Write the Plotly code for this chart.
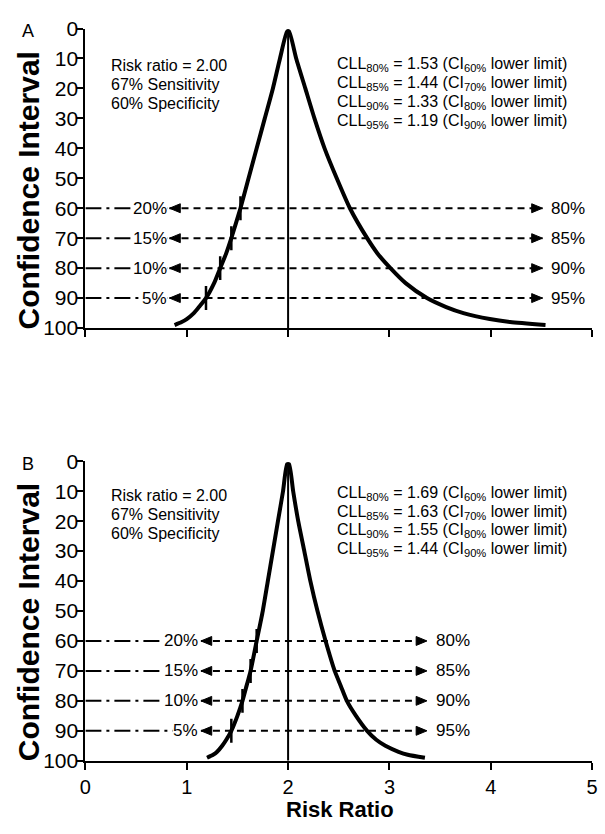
import plotly.graph_objects as go

# ---------------------------------------------------------------------------
# Data
# ---------------------------------------------------------------------------
ci_levels = [1, 10, 20, 30, 40, 50, 60, 70, 75, 80, 85, 90, 93, 95, 97, 98, 99]

# Panel A: lower / upper confidence limits of the risk ratio at each CI level
a_lower = [1.99, 1.92, 1.85, 1.77, 1.69, 1.61, 1.53, 1.44, 1.39, 1.33, 1.27,
           1.19, 1.12, 1.07, 1.00, 0.95, 0.88]
a_upper = [2.01, 2.08, 2.17, 2.26, 2.36, 2.48, 2.61, 2.78, 2.88, 3.01, 3.16,
           3.37, 3.56, 3.73, 3.99, 4.19, 4.54]

# Panel B
b_lower = [1.99, 1.95, 1.90, 1.85, 1.80, 1.75, 1.69, 1.63, 1.59, 1.55, 1.50,
           1.44, 1.39, 1.35, 1.30, 1.26, 1.20]
b_upper = [2.01, 2.05, 2.10, 2.16, 2.22, 2.29, 2.37, 2.46, 2.52, 2.58, 2.67,
           2.78, 2.87, 2.96, 3.09, 3.18, 3.35]

risk_ratio = 2.00
marker_ci = [60, 70, 80, 90]
left_labels = ["20%", "15%", "10%", "5%"]
right_labels = ["80%", "85%", "90%", "95%"]
cll_levels = ["80%", "85%", "90%", "95%"]
ci_names = ["60%", "70%", "80%", "90%"]
a_cll = [1.53, 1.44, 1.33, 1.19]
b_cll = [1.69, 1.63, 1.55, 1.44]

# extent of the arrowed reference lines (risk-ratio units)
a_arrow_span = (0.83, 4.51)
b_arrow_span = (1.14, 3.37)

info_lines = ["Risk ratio = 2.00", "67% Sensitivity", "60% Specificity"]

x_ticks = [0, 1, 2, 3, 4, 5]
y_ticks = [0, 10, 20, 30, 40, 50, 60, 70, 80, 90, 100]

# ---------------------------------------------------------------------------
# Layout geometry (pixels)
# ---------------------------------------------------------------------------
W, H = 605, 834
X_L, X_R = 81, 598
PANELS = {
    "A": dict(top=17, bottom=325),
    "B": dict(top=462, bottom=770),
}
FONT = "Liberation Sans, Arial, Helvetica, sans-serif"
PX_PER_X = (X_R - X_L) / 5.0
PX_PER_Y = (325 - 17) / 100.0

fig = go.Figure()


def add_panel(xa, ya, lower, upper, cll, span, info_y, cll_y):
    xref, yref = xa, ya
    for ci in marker_ci:
        # dash-dot lead-in from the axis to the left arrow tip
        fig.add_trace(go.Scatter(x=[0, span[0]], y=[ci, ci], mode="lines",
                                 line=dict(color="black", width=2,
                                           dash="16px,5px,3px,5px"),
                                 xaxis=xa, yaxis=ya, hoverinfo="skip"))
        # dashed double-headed reference line
        fig.add_trace(go.Scatter(x=[span[0], span[1]], y=[ci, ci], mode="lines",
                                 line=dict(color="black", width=2, dash="7px,5px"),
                                 xaxis=xa, yaxis=ya, hoverinfo="skip"))
        # arrowheads as filled triangles
        dx = 11 / PX_PER_X
        dy = 4.6 / PX_PER_Y
        for tip, sgn in ((span[0], 1), (span[1], -1)):
            fig.add_trace(go.Scatter(
                x=[tip, tip + sgn * dx, tip + sgn * dx, tip],
                y=[ci, ci - dy, ci + dy, ci],
                mode="lines", fill="toself", fillcolor="black",
                line=dict(color="black", width=1),
                xaxis=xa, yaxis=ya, hoverinfo="skip"))

    # vertical line at the point estimate
    fig.add_trace(go.Scatter(x=[risk_ratio, risk_ratio], y=[ci_levels[0], 100],
                             mode="lines", line=dict(color="black", width=2),
                             xaxis=xa, yaxis=ya, hoverinfo="skip"))

    # confidence curve
    cx = list(reversed(lower)) + list(upper)
    cy = list(reversed(ci_levels)) + list(ci_levels)
    fig.add_trace(go.Scatter(x=cx, y=cy, mode="lines",
                             line=dict(color="black", width=4,
                                       shape="spline", smoothing=0.6),
                             xaxis=xa, yaxis=ya, hoverinfo="skip"))

    # short ticks marking the lower limits
    tx, ty = [], []
    for v, ci in zip(cll, marker_ci):
        tx += [v, v, None]
        ty += [ci - 4, ci + 4, None]
    fig.add_trace(go.Scatter(x=tx, y=ty, mode="lines",
                             line=dict(color="black", width=2.5),
                             xaxis=xa, yaxis=ya, hoverinfo="skip"))

    # row labels
    for ci, ll, rl in zip(marker_ci, left_labels, right_labels):
        fig.add_annotation(x=span[0], y=ci, xref=xref, yref=yref, text=ll,
                           showarrow=False, xanchor="right", yanchor="middle",
                           xshift=-2, bgcolor="white", borderpad=0,
                           font=dict(family=FONT, size=17, color="black"))
        fig.add_annotation(x=span[1], y=ci, xref=xref, yref=yref, text=rl,
                           showarrow=False, xanchor="left", yanchor="middle",
                           xshift=7, font=dict(family=FONT, size=17, color="black"))

    # study description
    for txt, yy in zip(info_lines, info_y):
        fig.add_annotation(x=0.23, y=yy, xref=xref, yref=yref, text=txt,
                           showarrow=False, xanchor="left", yanchor="middle",
                           font=dict(family=FONT, size=16, color="black"))

    # lower-limit statements
    for lev, name, v, yy in zip(cll_levels, ci_names, cll, cll_y):
        txt = (f"CLL<sub>{lev}</sub> = {v:.2f} (CI<sub>{name}</sub> lower limit)")
        fig.add_annotation(x=2.46, y=yy, xref=xref, yref=yref, text=txt,
                           showarrow=False, xanchor="left", yanchor="middle",
                           font=dict(family=FONT, size=16, color="black"))


add_panel("x", "y", a_lower, a_upper, a_cll, a_arrow_span,
          [12.3, 18.7, 25.0], [12.0, 18.5, 24.8, 31.1])
add_panel("x2", "y2", b_lower, b_upper, b_cll, b_arrow_span,
          [11.4, 17.9, 24.1], [10.7, 17.0, 23.1, 29.6])

# ---------------------------------------------------------------------------
# Axes
# ---------------------------------------------------------------------------
x_dom = [X_L / W, X_R / W]
axis_common = dict(showline=True, linecolor="black", linewidth=2,
                   ticks="outside", tickcolor="black", tickwidth=2,
                   showgrid=False, zeroline=False)
tick_font = dict(family=FONT, size=21, color="black")


def ydom(p):
    return [1 - PANELS[p]["bottom"] / H, 1 - PANELS[p]["top"] / H]


fig.update_layout(
    xaxis=dict(domain=x_dom, range=[0, 5], tickvals=x_ticks, showticklabels=False,
               ticklen=7, anchor="y", **axis_common),
    yaxis=dict(domain=ydom("A"), range=[100, 0], tickvals=y_ticks, ticklen=6,
               anchor="x", ticklabelstandoff=-5, tickfont=tick_font,
               **axis_common),
    xaxis2=dict(domain=x_dom, range=[0, 5], tickvals=x_ticks, ticklen=7,
                anchor="y2", tickfont=dict(family=FONT, size=20, color="black"),
                **axis_common),
    yaxis2=dict(domain=ydom("B"), range=[100, 0], tickvals=y_ticks, ticklen=6,
                anchor="x2", ticklabelstandoff=-5, tickfont=tick_font,
                **axis_common),
    width=W, height=H, margin=dict(l=0, r=0, t=0, b=0),
    paper_bgcolor="white", plot_bgcolor="white", showlegend=False,
)

# Titles and panel letters
for letter, ycen_title, yletter in (("A", 184, 20), ("B", 628, 465)):
    fig.add_annotation(x=23 / W, y=1 - ycen_title / H, xref="paper", yref="paper",
                       text="Confidence Interval", textangle=-90, showarrow=False,
                       xanchor="center", yanchor="middle",
                       font=dict(family=FONT, size=30, color="black", weight="bold"))
    fig.add_annotation(x=22 / W, y=1 - yletter / H, xref="paper", yref="paper",
                       text=letter, showarrow=False, xanchor="center",
                       yanchor="middle",
                       font=dict(family=FONT, size=18, color="black"))

fig.add_annotation(x=341 / W, y=1 - 820.5 / H, xref="paper", yref="paper",
                   text="Risk Ratio", showarrow=False, xanchor="center",
                   yanchor="middle",
                   font=dict(family=FONT, size=22, color="black", weight="bold"))

fig.write_html("out.html")
